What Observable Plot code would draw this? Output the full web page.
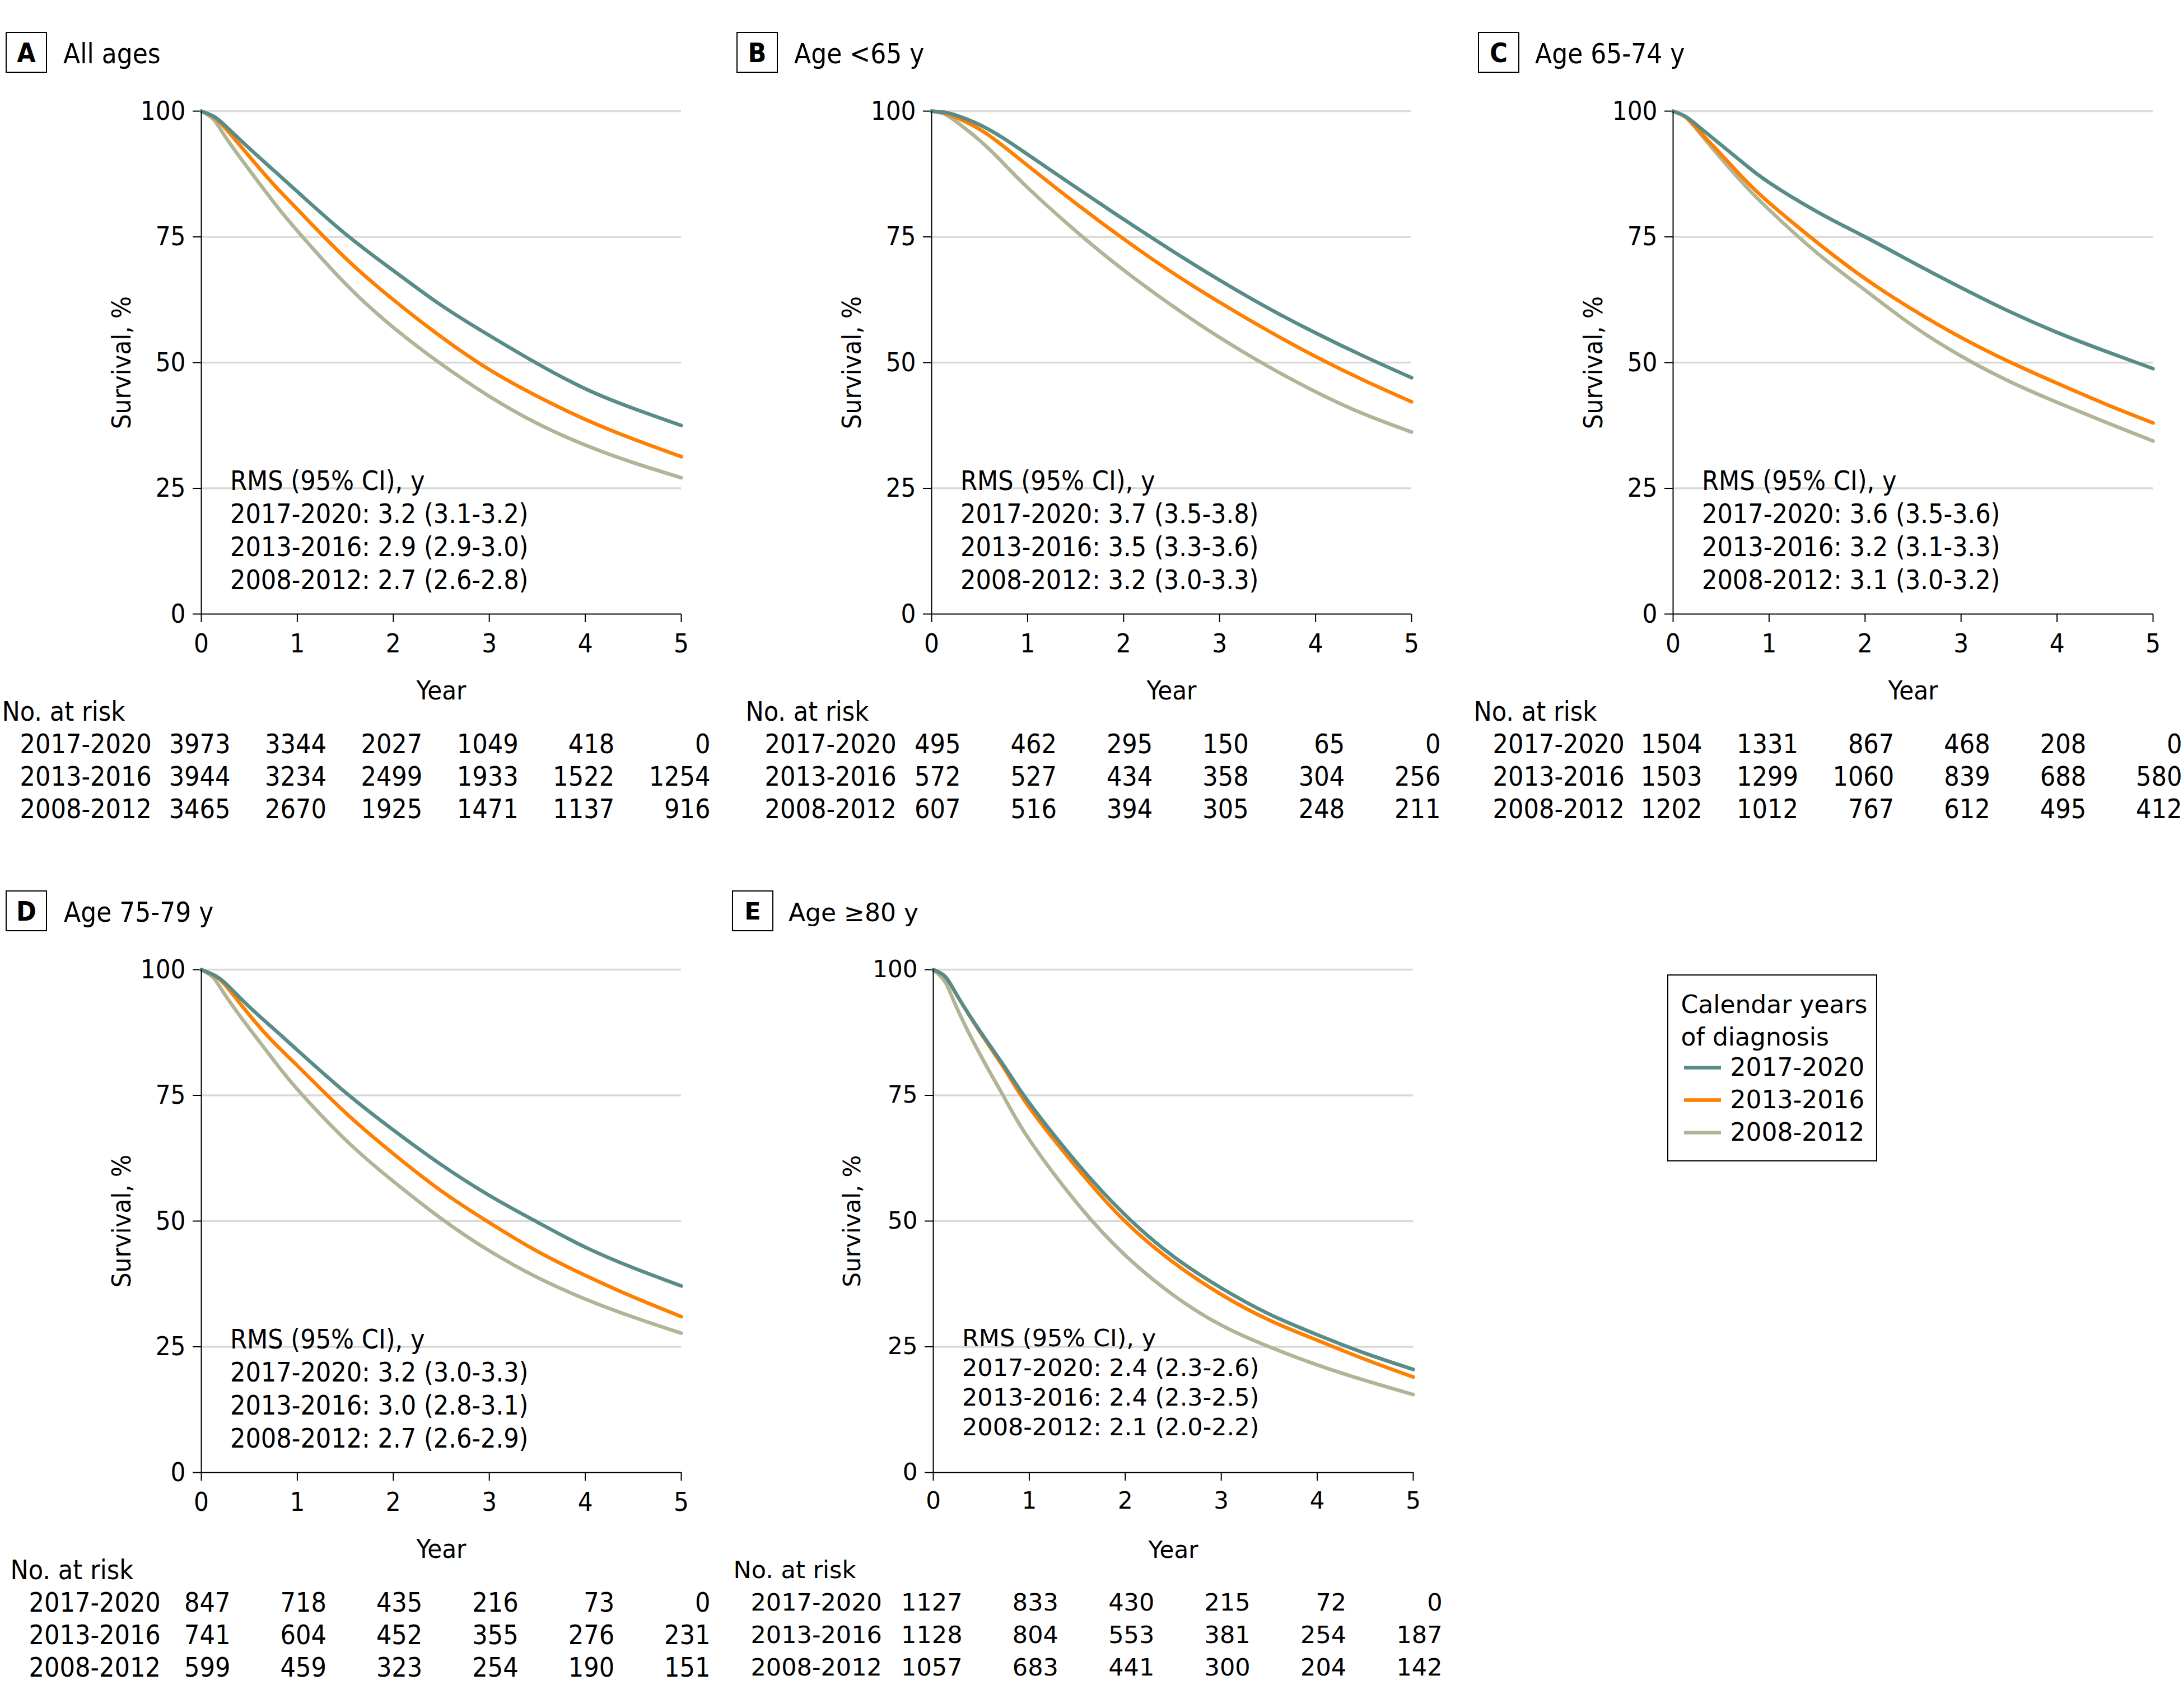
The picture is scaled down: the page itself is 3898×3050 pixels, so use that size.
<!DOCTYPE html>
<html><head><meta charset="utf-8">
<script src="https://cdn.jsdelivr.net/npm/d3@7"></script>
<script src="https://cdn.jsdelivr.net/npm/@observablehq/plot@0.6"></script>
<style>
html,body{margin:0;padding:0;background:#fff;overflow:hidden}
#fig{position:relative;width:3898px;height:3050px;background:#fff;overflow:hidden}
.box{position:absolute;border:2.5px solid #000;box-sizing:border-box;width:74px;height:73px;display:flex;align-items:center;justify-content:center;font-weight:bold;color:#000}
.title{position:absolute;white-space:nowrap;height:73px;line-height:73px;color:#000}
svg{overflow:visible}
</style></head><body><div id="fig"></div>
<script>
const series = ["2017-2020", "2013-2016", "2008-2012"];
const seriesColors = ["#588c89", "#ff7f00", "#b2b498"];
const years = [0, 0.125, 0.25, 0.5, 0.75, 1, 1.5, 2, 2.5, 3, 3.5, 4, 4.5, 5];
const riskYears = [0, 1, 2, 3, 4, 5];
const xTicks = [0, 1, 2, 3, 4, 5];
const yTicks = [0, 25, 50, 75, 100];
const legendTitle = "Calendar years\nof diagnosis";

// Panel A: All ages
const survA_2017 = [100, 99.0, 97.1, 92.6, 88.3, 84.0, 75.6, 68.3, 61.4, 55.4, 49.8, 44.8, 40.9, 37.5];
const survA_2013 = [100, 98.9, 96.6, 91.0, 85.5, 80.5, 70.8, 62.5, 55.1, 48.6, 43.3, 38.7, 34.8, 31.3];
const survA_2008 = [100, 98.4, 94.9, 88.3, 82.0, 76.2, 65.7, 57.0, 49.7, 43.3, 37.9, 33.6, 30.1, 27.1];
const riskA_2017 = [3973, 3344, 2027, 1049, 418, 0];
const riskA_2013 = [3944, 3234, 2499, 1933, 1522, 1254];
const riskA_2008 = [3465, 2670, 1925, 1471, 1137, 916];
const rmsA = ["2017-2020: 3.2 (3.1-3.2)", "2013-2016: 2.9 (2.9-3.0)", "2008-2012: 2.7 (2.6-2.8)"];

// Panel B: Age <65 y
const survB_2017 = [100, 99.8, 99.2, 97.3, 94.6, 91.4, 84.9, 78.5, 72.3, 66.4, 60.9, 55.9, 51.3, 47.0];
const survB_2013 = [100, 99.7, 98.8, 96.4, 93.0, 89.2, 81.7, 74.6, 68.0, 62.0, 56.4, 51.2, 46.5, 42.2];
const survB_2008 = [100, 99.5, 98.0, 94.2, 89.6, 84.8, 76.2, 68.4, 61.4, 55.0, 49.3, 44.2, 39.8, 36.2];
const riskB_2017 = [495, 462, 295, 150, 65, 0];
const riskB_2013 = [572, 527, 434, 358, 304, 256];
const riskB_2008 = [607, 516, 394, 305, 248, 211];
const rmsB = ["2017-2020: 3.7 (3.5-3.8)", "2013-2016: 3.5 (3.3-3.6)", "2008-2012: 3.2 (3.0-3.3)"];

// Panel C: Age 65-74 y
const survC_2017 = [100, 99.0, 97.2, 93.3, 89.4, 85.8, 80.0, 75.0, 69.9, 64.9, 60.2, 56.0, 52.3, 48.8];
const survC_2013 = [100, 98.9, 96.5, 91.4, 86.3, 81.8, 73.9, 66.7, 60.5, 55.0, 50.2, 45.9, 41.8, 38.0];
const survC_2008 = [100, 98.9, 96.3, 90.6, 85.2, 80.4, 71.8, 64.4, 57.3, 51.3, 46.3, 42.1, 38.2, 34.4];
const riskC_2017 = [1504, 1331, 867, 468, 208, 0];
const riskC_2013 = [1503, 1299, 1060, 839, 688, 580];
const riskC_2008 = [1202, 1012, 767, 612, 495, 412];
const rmsC = ["2017-2020: 3.6 (3.5-3.6)", "2013-2016: 3.2 (3.1-3.3)", "2008-2012: 3.1 (3.0-3.2)"];

// Panel D: Age 75-79 y
const survD_2017 = [100, 99.0, 97.3, 92.6, 88.3, 84.0, 75.6, 68.1, 61.2, 55.1, 49.8, 44.8, 40.7, 37.1];
const survD_2013 = [100, 98.9, 96.9, 91.0, 85.6, 80.9, 71.6, 63.4, 56.0, 49.7, 44.0, 39.2, 34.9, 31.0];
const survD_2008 = [100, 98.4, 94.9, 88.3, 82.1, 76.2, 66.2, 57.9, 50.5, 44.1, 38.8, 34.5, 30.9, 27.7];
const riskD_2017 = [847, 718, 435, 216, 73, 0];
const riskD_2013 = [741, 604, 452, 355, 276, 231];
const riskD_2008 = [599, 459, 323, 254, 190, 151];
const rmsD = ["2017-2020: 3.2 (3.0-3.3)", "2013-2016: 3.0 (2.8-3.1)", "2008-2012: 2.7 (2.6-2.9)"];

// Panel E: Age >=80 y
const survE_2017 = [100, 98.6, 94.8, 87.4, 80.5, 73.5, 61.5, 51.2, 43.0, 36.7, 31.5, 27.4, 23.7, 20.5];
const survE_2013 = [100, 98.6, 94.8, 87.2, 80.0, 72.6, 60.5, 49.9, 41.8, 35.4, 30.3, 26.3, 22.5, 19.0];
const survE_2008 = [100, 97.5, 92.2, 82.7, 74.2, 66.2, 53.5, 43.2, 35.3, 29.3, 25.0, 21.4, 18.3, 15.5];
const riskE_2017 = [1127, 833, 430, 215, 72, 0];
const riskE_2013 = [1128, 804, 553, 381, 254, 187];
const riskE_2008 = [1057, 683, 441, 300, 204, 142];
const rmsE = ["2017-2020: 2.4 (2.3-2.6)", "2013-2016: 2.4 (2.3-2.5)", "2008-2012: 2.1 (2.0-2.2)"];

const COND = '"DejaVu Sans Condensed", "DejaVu Sans", sans-serif';
const WIDE = '"DejaVu Sans", sans-serif';

const panels = [
  {letter: "A", title: "All ages", ox: 0, oy: 0, surv: [survA_2017, survA_2013, survA_2008], risk: [riskA_2017, riskA_2013, riskA_2008], rms: rmsA, font: COND, stretch: "condensed", fs: 48, tfs: 47, boxDx: 10, titleDx: 113, headDx: -356, rowDx: -324},
  {letter: "B", title: "Age <65 y", ox: 1304, oy: 0, surv: [survB_2017, survB_2013, survB_2008], risk: [riskB_2017, riskB_2013, riskB_2008], rms: rmsB, font: COND, stretch: "condensed", fs: 48, tfs: 47, boxDx: 11, titleDx: 114, headDx: -332, rowDx: -298},
  {letter: "C", title: "Age 65-74 y", ox: 2628, oy: 0, surv: [survC_2017, survC_2013, survC_2008], risk: [riskC_2017, riskC_2013, riskC_2008], rms: rmsC, font: COND, stretch: "condensed", fs: 48, tfs: 47, boxDx: 11, titleDx: 113, headDx: -356, rowDx: -322},
  {letter: "D", title: "Age 75-79 y", ox: 0, oy: 1533, surv: [survD_2017, survD_2013, survD_2008], risk: [riskD_2017, riskD_2013, riskD_2008], rms: rmsD, font: COND, stretch: "condensed", fs: 48, tfs: 47, boxDx: 10, titleDx: 114, headDx: -341, rowDx: -308},
  {letter: "E", title: "Age \u226580 y", ox: 1307, oy: 1533, surv: [survE_2017, survE_2013, survE_2008], risk: [riskE_2017, riskE_2013, riskE_2008], rms: rmsE, font: WIDE, stretch: "normal", fs: 43, tfs: 42, boxDx: 0, titleDx: 101, headDx: -357, rowDx: -326}
];

const fig = document.getElementById("fig");
const W = 1270;

function renderPanel(p) {
  const box = document.createElement("div");
  box.className = "box";
  box.style.left = (p.ox + p.boxDx) + "px";
  box.style.top = (p.oy + 57) + "px";
  box.style.fontFamily = p.font;
  box.style.fontStretch = p.stretch;
  box.style.fontSize = (p.fs) + "px";
  box.textContent = p.letter;
  fig.appendChild(box);

  const t = document.createElement("div");
  t.className = "title";
  t.style.left = (p.ox + p.titleDx) + "px";
  t.style.top = (p.oy + 60) + "px";
  t.style.fontFamily = p.font;
  t.style.fontStretch = p.stretch;
  t.style.fontSize = (p.fs + 1) + "px";
  t.textContent = p.title;
  fig.appendChild(t);

  const data = [];
  [2, 1, 0].forEach(si => years.forEach((yr, i) => data.push({t: yr, s: p.surv[si][i], series: series[si]})));

  const chart = Plot.plot({
    width: W, height: 1120,
    marginLeft: 359, marginRight: 54, marginTop: 48, marginBottom: 174,
    style: {fontFamily: p.font, fontStretch: p.stretch, fontSize: p.tfs + "px", color: "#000", background: "transparent", overflow: "visible"},
    x: {domain: [0, 5]},
    y: {domain: [0, 100]},
    color: {domain: series, range: seriesColors},
    marks: [
      Plot.gridY(yTicks.filter(d => d > 0), {stroke: "#d9d9d9", strokeOpacity: 1, strokeWidth: 3.5}),
      Plot.axisY({ticks: yTicks, tickSize: 15, tickPadding: 13, strokeWidth: 2, label: "Survival, %", labelAnchor: "center", labelOffset: 160, labelArrow: "none"}),
      Plot.axisX({ticks: xTicks, tickSize: 15, tickPadding: 20, strokeWidth: 2, tickFormat: d => String(d), label: "Year", labelAnchor: "center", labelOffset: 152, labelArrow: "none"}),
      Plot.line(data, {x: "t", y: "s", z: "series", stroke: "series", strokeWidth: 6.5, curve: "natural"}),
      Plot.ruleX([0], {stroke: "#000", strokeWidth: 2}),
      Plot.ruleY([0], {stroke: "#000", strokeWidth: 2}),
      Plot.text([["RMS (95% CI), y", ...p.rms].join("\n")], {x: () => 0.3, y: () => 29.3, text: d => d, textAnchor: "start", lineAnchor: "top", lineHeight: 1.23, fontSize: p.fs, fill: "#000"})
    ]
  });
  chart.style.position = "absolute";
  chart.style.left = p.ox + "px";
  chart.style.top = (p.oy + 150) + "px";
  fig.appendChild(chart);

  const rows = [];
  series.forEach((s, si) => riskYears.forEach((yr, i) => rows.push({t: yr, n: p.risk[si][i], series: s})));
  const table = Plot.plot({
    width: W, height: 250,
    marginLeft: 359, marginRight: 54, marginTop: 40, marginBottom: 35,
    style: {fontFamily: p.font, fontStretch: p.stretch, fontSize: p.fs + "px", color: "#000", background: "transparent", overflow: "visible"},
    x: {domain: [0, 5], axis: null},
    y: {type: "point", domain: ["No. at risk", ...series], padding: 0, axis: null},
    marks: [
      Plot.text(["No. at risk"], {x: () => 0, y: d => d, text: d => d, dx: p.headDx, textAnchor: "start", fill: "#000"}),
      Plot.text(series, {x: () => 0, y: d => d, text: d => d, dx: p.rowDx, textAnchor: "start", fill: "#000"}),
      Plot.text(rows, {x: "t", y: "series", text: d => String(d.n), dx: 52, textAnchor: "end", fill: "#000"})
    ]
  });
  table.style.position = "absolute";
  table.style.left = p.ox + "px";
  table.style.top = (p.oy + 1230) + "px";
  fig.appendChild(table);
}

panels.forEach(renderPanel);

// Legend
const legendBox = document.createElement("div");
legendBox.style.cssText = "position:absolute;left:2977px;top:1740px;width:375px;height:334px;border:2.5px solid #000;box-sizing:border-box;";
const legend = Plot.plot({
  width: 370, height: 329,
  margin: 0,
  style: {fontFamily: WIDE, fontSize: "44px", color: "#000", background: "transparent", overflow: "visible"},
  x: {type: "identity", axis: null},
  y: {type: "point", domain: series, range: [163, 280], padding: 0, axis: null},
  color: {domain: series, range: seriesColors},
  marks: [
    Plot.text([legendTitle], {frameAnchor: "top-left", text: d => d, dx: 22, dy: 25, lineAnchor: "top", lineHeight: 1.32, textAnchor: "start", fill: "#000"}),
    Plot.ruleY(series, {y: d => d, x1: () => 28, x2: () => 94, stroke: d => d, strokeWidth: 6.5}),
    Plot.text(series, {x: () => 110, y: d => d, text: d => d, textAnchor: "start", fill: "#000"})
  ]
});
legendBox.appendChild(legend);
fig.appendChild(legendBox);
</script></body></html>
